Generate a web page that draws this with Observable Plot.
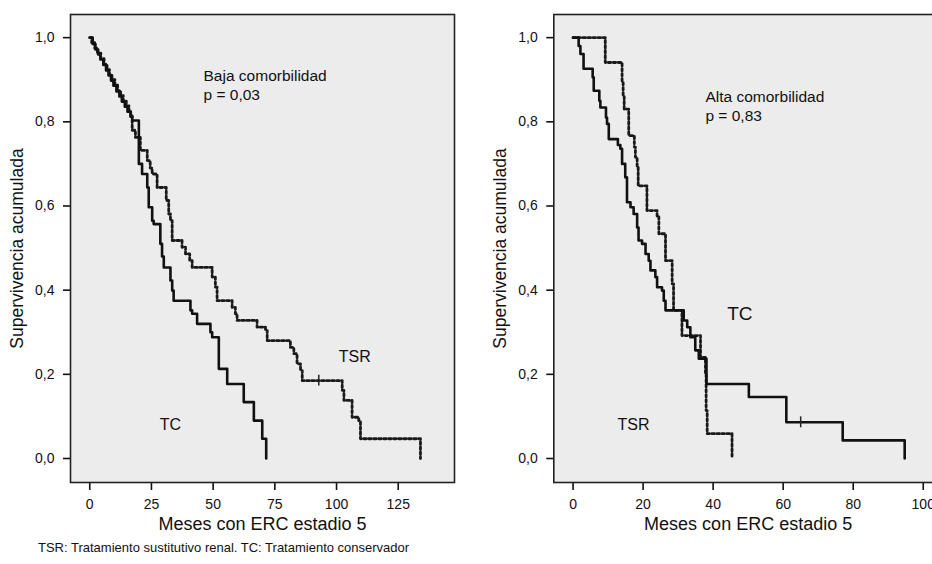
<!DOCTYPE html>
<html><head><meta charset="utf-8">
<script src="https://cdn.jsdelivr.net/npm/d3@7"></script>
<script src="https://cdn.jsdelivr.net/npm/@observablehq/plot@0.6"></script>
<style>
html,body{margin:0;padding:0;background:#fff;}
body{width:932px;height:564px;overflow:hidden;position:relative;font-family:"Liberation Sans",Arial,sans-serif;}
#left{position:absolute;left:0;top:0;width:470px;height:564px;}
#right{position:absolute;left:476px;top:0;width:476px;height:564px;}
#left svg,#right svg{max-width:none !important;height:564px !important;display:block;}
#caption{position:absolute;left:38px;top:541px;font-size:13px;line-height:14px;color:#111;white-space:nowrap;}
svg [aria-label*="axis"] line, svg [aria-label*="axis tick"] path{stroke-width:1.6px;}
</style></head><body>
<div id="left"></div><div id="right"></div>
<div id="caption">TSR: Tratamiento sustitutivo renal. TC: Tratamiento conservador</div>
<script>
// ---- Data (months, cumulative survival) ----
// Baja comorbilidad, TC (solid)
const lowTC_t = [0, 1.2, 2.3, 3.4, 4.3, 5.5, 6.6, 7.6, 8.6, 9.6, 10.8, 12.0, 13.0, 14.2, 15.3, 16.5, 17.2, 19.9, 21.2, 23.3, 23.9, 25.3, 25.9, 28.6, 29.3, 30.0, 32.7, 33.4, 34.0, 40.8, 41.5, 43.5, 48.9, 49.6, 52.3, 55.7, 62.4, 66.5, 69.9, 71.5];
const lowTC_s = [1.000, 0.985, 0.972, 0.960, 0.948, 0.935, 0.922, 0.910, 0.898, 0.886, 0.872, 0.860, 0.848, 0.836, 0.824, 0.812, 0.803, 0.700, 0.676, 0.644, 0.597, 0.565, 0.557, 0.510, 0.480, 0.454, 0.423, 0.399, 0.375, 0.352, 0.344, 0.320, 0.300, 0.288, 0.213, 0.177, 0.134, 0.090, 0.047, 0.000];
// Baja comorbilidad, TSR (dotted)
const lowTSR_t = [0, 0.8, 2.0, 3.1, 4.5, 5.8, 7.0, 8.0, 9.0, 10.2, 11.3, 12.5, 13.6, 14.8, 15.9, 16.6, 17.2, 18.5, 20.5, 23.3, 24.5, 25.3, 27.3, 31.0, 32.0, 32.7, 33.4, 37.4, 38.8, 40.5, 41.5, 49.6, 50.9, 51.6, 57.7, 59.0, 59.7, 67.8, 71.2, 71.9, 81.3, 82.7, 84.0, 85.4, 86.1, 102.3, 103.0, 106.3, 109.0, 109.7, 134.0];
const lowTSR_s = [1.000, 0.988, 0.975, 0.963, 0.950, 0.937, 0.924, 0.912, 0.900, 0.887, 0.874, 0.862, 0.850, 0.838, 0.826, 0.814, 0.780, 0.763, 0.732, 0.708, 0.690, 0.676, 0.644, 0.613, 0.581, 0.565, 0.518, 0.502, 0.486, 0.470, 0.454, 0.431, 0.407, 0.375, 0.359, 0.344, 0.328, 0.312, 0.304, 0.280, 0.264, 0.249, 0.225, 0.209, 0.185, 0.162, 0.138, 0.098, 0.090, 0.047, 0.000];
const lowCens_t = [92.8];
const lowCens_s = [0.185];

// Alta comorbilidad, TC (solid)
const highTC_t = [0, 1.6, 2.1, 3.0, 5.6, 5.9, 7.5, 7.8, 9.4, 9.7, 10.2, 12.8, 13.5, 14.0, 14.9, 15.4, 16.4, 17.3, 18.3, 18.7, 19.7, 20.7, 21.6, 22.1, 23.5, 24.0, 25.4, 25.9, 26.4, 31.6, 32.6, 33.5, 34.9, 35.9, 38.1, 50.2, 60.9, 77.0, 94.7];
const highTC_s = [1.000, 0.980, 0.961, 0.926, 0.906, 0.874, 0.850, 0.834, 0.810, 0.795, 0.759, 0.745, 0.736, 0.700, 0.668, 0.609, 0.597, 0.581, 0.549, 0.518, 0.510, 0.486, 0.470, 0.447, 0.431, 0.407, 0.399, 0.375, 0.352, 0.328, 0.312, 0.288, 0.257, 0.237, 0.177, 0.146, 0.086, 0.043, 0.000];
// Alta comorbilidad, TSR (dotted)
const highTSR_t = [0, 9.2, 14.0, 14.3, 14.6, 15.9, 17.5, 17.8, 18.3, 18.6, 21.1, 24.0, 24.5, 26.4, 28.3, 28.7, 31.1, 36.4, 37.8, 38.0, 38.3, 45.4];
const highTSR_s = [1.000, 0.941, 0.894, 0.860, 0.830, 0.767, 0.740, 0.716, 0.692, 0.648, 0.589, 0.575, 0.534, 0.470, 0.415, 0.352, 0.292, 0.240, 0.201, 0.114, 0.059, 0.000];
const highCens_t = [65.0];
const highCens_s = [0.086];

// Axis ticks and labels
const yTicks = [0, 0.2, 0.4, 0.6, 0.8, 1.0];
const lowXTicks = [0, 25, 50, 75, 100, 125];
const highXTicks = [0, 20, 40, 60, 80, 100];
const xTitle = "Meses con ERC estadio 5";
const yTitle = "Supervivencia acumulada";

// Annotations (label, month, survival)
const lowNotes = [
  {label: "Baja comorbilidad", t: 46.1, s: 0.898},
  {label: "p = 0,03", t: 46.1, s: 0.851},
  {label: "TSR", t: 100.9, s: 0.230},
  {label: "TC", t: 28.4, s: 0.068}
];
const highNotes = [
  {label: "Alta comorbilidad", t: 37.8, s: 0.846},
  {label: "p = 0,83", t: 37.8, s: 0.803},
  {label: "TC", t: 44.0, s: 0.329},
  {label: "TSR", t: 12.7, s: 0.068}
];

const zipTS = (t, s) => t.map((v, i) => ({t: v, s: s[i]}));
const comma = d => d.toFixed(1).replace(".", ",");

function panel({tc, tsr, cens, xDomain, xTicks, marginLeft, width, marginRight, notes, noteSizes}) {
  const noteMarks = notes.map((n, i) => Plot.text([n], {
    x: "t", y: "s", text: "label", textAnchor: "start", lineAnchor: "bottom",
    fontSize: noteSizes[i], fill: "#111"
  }));
  return Plot.plot({
    width, height: 564,
    marginLeft, marginRight, marginTop: 14, marginBottom: 82,
    style: {fontFamily: "'Liberation Sans', Arial, sans-serif", fontSize: "14px", background: "transparent", overflow: "visible", color: "#111"},
    x: {domain: xDomain, ticks: xTicks, tickSize: 8, tickPadding: 9, label: null, tickFormat: d => String(d)},
    y: {domain: [-0.057, 1.055], ticks: yTicks, tickSize: 7, tickPadding: 9, label: null, tickFormat: comma},
    marks: [
      Plot.frame({fill: "#ececec", stroke: null}),
      Plot.line(tsr, {x: "t", y: "s", curve: "step-after", stroke: "#1a1a1a", strokeWidth: 2.8, strokeDasharray: "2.5,2.5"}),
      Plot.line(tc, {x: "t", y: "s", curve: "step-after", stroke: "#111", strokeWidth: 2.6}),
      Plot.ruleX(cens, {x: "t", y1: d => d.s - 0.013, y2: d => d.s + 0.013, stroke: "#222", strokeWidth: 1.5}),
      Plot.frame({stroke: "#222", strokeWidth: 1.6}),
      ...noteMarks,
      Plot.text([xTitle], {frameAnchor: "bottom", dy: 47, lineAnchor: "bottom", fontSize: 18, fill: "#111"}),
      Plot.text([yTitle], {frameAnchor: "left", textAnchor: "middle", lineAnchor: "middle", rotate: -90, dx: -53, fontSize: 17.5, fill: "#111"})
    ]
  });
}

document.getElementById("left").appendChild(panel({
  tc: zipTS(lowTC_t, lowTC_s), tsr: zipTS(lowTSR_t, lowTSR_s), cens: zipTS(lowCens_t, lowCens_s),
  xDomain: [-7.8, 147.8], xTicks: lowXTicks, marginLeft: 70, width: 470, marginRight: 16,
  notes: lowNotes, noteSizes: [15.5, 15.5, 16, 16]
}));
document.getElementById("right").appendChild(panel({
  tc: zipTS(highTC_t, highTC_s), tsr: zipTS(highTSR_t, highTSR_s), cens: zipTS(highCens_t, highCens_s),
  xDomain: [-5.5, 105.5], xTicks: highXTicks, marginLeft: 77.3, width: 476, marginRight: 10,
  notes: highNotes, noteSizes: [15.5, 15.5, 19, 16]
}));
</script>
</body></html>
